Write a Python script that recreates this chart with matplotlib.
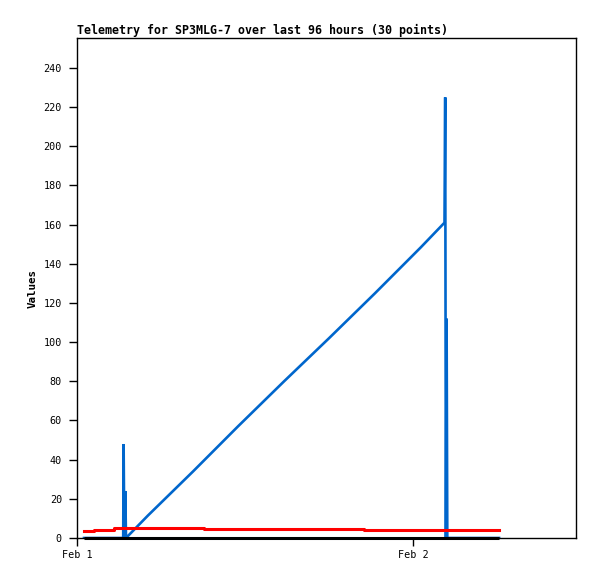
"""telemetry chart for SP3MLG-7
- three series over the last hours, blue/red/black
"""
from datetime import datetime, timedelta
import matplotlib
matplotlib.use('Agg')
import matplotlib.pyplot as plt
import matplotlib.dates as mdates

start = datetime(2024, 2, 1)

# hours after Feb 1 00:00 and the values
blueHours  = [0.5, 3.3, 3.33, 3.38, 3.45, 3.5, 5.07, 8.29, 11.5, 14.79, 18.0, 21.29, 24.57, 26.25, 26.3, 26.35, 26.4, 26.45, 30.15]
blueValues = [0, 0, 48, 0, 24, 0, 11.5, 34, 57, 80, 102, 125, 148.5, 161, 225, 0, 112, 0, 0]
redHours   = [0.5, 1.2, 2.65, 9.05, 20.5, 30.15]
redValues  = [3.8, 4.3, 4.9, 4.4, 3.9, 3.9]
blackHours  = [0.5, 30.15]
blackValues = [0, 0]

def toTime(hours):
  return [start + timedelta(hours=h) for h in hours]

plt.rcParams['font.family'] = ['DejaVu Sans Mono']
fig = plt.figure(figsize=(5.97, 5.79), dpi=100)
ax = fig.add_axes([77/597, 1-538/579, (576-77)/597, (538-38)/579])

ax.plot(toTime(blueHours), blueValues, color='#0066cc', lw=1.9, solid_joinstyle='miter')
ax.plot(toTime(redHours), redValues, color='#ff0000', lw=2.2, drawstyle='steps-post')
ax.plot(toTime(blackHours), blackValues, color='black', lw=2.2, solid_capstyle='butt',
        clip_on=False, zorder=3)

ax.set_xlim(start, start + timedelta(hours=(576-77)/14))
ax.set_ylim(0, 255.3)
ax.set_yticks(range(0, 241, 20))
ax.xaxis.set_major_locator(mdates.DayLocator())
ax.xaxis.set_major_formatter(mdates.DateFormatter('%b %-d'))
ax.tick_params(direction='out', length=5.8, width=1, labelsize=7.3, colors='black')
ax.tick_params(axis='y', pad=5)
ax.tick_params(axis='x', pad=3)
for s in ax.spines.values():
  s.set_linewidth(1)

ax.set_ylabel('Values', fontsize=7.8, fontweight='bold', labelpad=4)
ax.set_title('Telemetry for SP3MLG-7 over last 96 hours (30 points)', loc='left',
             fontsize=8.35, fontweight='bold', pad=3)

fig.savefig('out.png', dpi=100)
